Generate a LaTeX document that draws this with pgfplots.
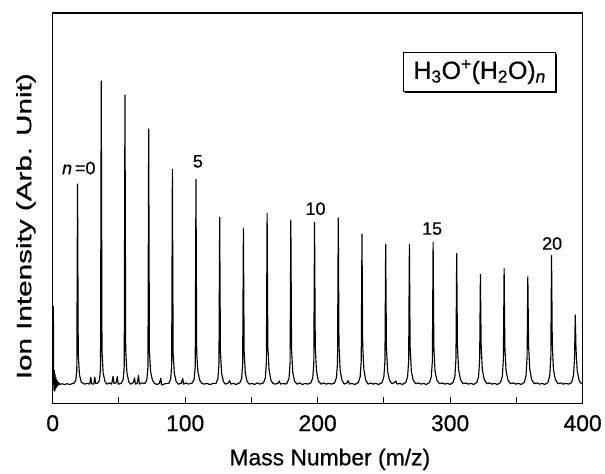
\documentclass[border=0pt]{standalone}
\usepackage{fontspec}
\setmainfont{Liberation Sans}[UprightFeatures={FakeBold=0.6}, ItalicFeatures={FakeBold=0.6}]
\usepackage{graphicx}
\usepackage{pgfplots}
\pgfplotsset{compat=1.18}
\usetikzlibrary{shadows}

\begin{document}
\begin{tikzpicture}
\begin{axis}[
  scale only axis,
  width=533pt, height=393pt,
  xmin=0, xmax=400, ymin=0, ymax=100,
  axis line style={line width=1.2pt},
  xtick={0,100,...,400},
  minor xtick={50,150,250,350},
  ytick=\empty,
  xtick pos=bottom,
  tick align=inside,
  major tick length=7pt, minor tick length=7pt,
  every tick/.style={black, line width=1pt},
  /pgf/number format/assume math mode=true,
  xticklabel style={font=\fontsize{23}{26}\selectfont, yshift=-8pt},
  xlabel={Mass Number (m/z)},
  xlabel style={font=\fontsize{23}{26}\selectfont, at={(axis description cs:0.523,0)}, anchor=base, yshift=-62pt},
  ylabel={\scalebox{1.42}[1]{Ion Intensity (Arb. Unit)}},
  ylabel style={font=\fontsize{21}{24}\selectfont, at={(axis description cs:-0.0507,0.454)}, anchor=center},
  clip=true,
]
% Mass spectrum trace of the protonated water clusters
\addplot[black, line width=1.15pt, line join=round] coordinates {
 (0.5,25) (0.7,9) (0.9,3.5) (1.2,8.5) (1.5,3.2) (1.8,7.5) (2.1,3.8) (2.5,6.6) (2.9,4.2) (3.4,5.9) (3.9,4.6) (4.6,5.4) (5.5,4.9) (7,5.1) (9,4.9) (11,5.1) (13,4.9) (14.5,5.1)
 (16.0,5.2) (17.4,6.0) (18.2,8.5) (18.75,56.2) (19.3,12.5) (20.2,7.4) (21.6,5.5)
 (24,5.0) (26,5.2) (28,5.0) (28.8,6.7) (29.4,5.1) (31,5.0) (31.8,6.8) (32.4,5.2)
 (33.9,5.2) (35.3,6.0) (36.1,9.0) (36.65,82.6) (37.2,13.5) (38.1,7.8) (39.5,5.6)
 (41,5.0) (43,5.3) (44.5,5.0) (45.6,7.0) (46.2,5.2) (47.8,5.3) (48.8,6.9) (49.4,5.0)
 (51.8,5.2) (53.2,6.2) (54.0,9.5) (54.55,79.0) (55.1,14) (56.0,8) (57.4,5.6)
 (59,5.0) (60.8,5.4) (61.8,6.6) (62.4,5.0) (63.8,5.2) (64.8,7.2) (65.4,5.0) (67,5.3)
 (69.7,5.2) (71.1,6.2) (71.9,9.5) (72.45,70.3) (73.0,13.5) (73.9,8.2) (75.3,6.0) (76.8,5.2)
 (78.8,4.9) (80.6,5.2) (81.6,6.5) (82.2,4.8) (84,5.0) (86,5.2)
 (87.6,5.2) (89.0,6.2) (89.8,9.5) (90.35,60.0) (90.9,13) (91.8,7.8) (93.2,5.6)
 (95,5.0) (97,5.2) (98.2,6.4) (98.8,5.0) (100.5,5.3) (102.5,5.0) (104,5.2)
 (105.4,5.3) (106.8,6.3) (107.6,9.5) (108.15,57.4) (108.7,13) (109.6,8.2) (111.0,6.0) (112.5,5.2)
 (114.5,5.0) (116.5,5.2) (118.5,4.9) (120.5,5.1) (122,5.2)
 (123.3,5.2) (124.7,6.4) (125.5,10) (126.05,47.7) (126.6,13.5) (127.5,7.8) (128.9,5.6)
 (130.5,5.0) (132.5,5.3) (133.5,5.9) (134.5,5.0) (136.5,5.2) (138.5,4.9) (140,5.2)
 (141.2,5.3) (142.6,6.4) (143.4,10) (143.95,44.9) (144.5,13.5) (145.4,7.8) (146.8,5.6)
 (148.5,5.0) (150.5,5.2) (152.5,4.9) (154.5,5.3) (156.5,5.0) (158,5.2)
 (159.1,5.3) (160.5,6.6) (161.3,10.5) (161.85,48.7) (162.4,14.5) (163.3,8.8) (164.7,6.0) (166.2,5.2)
 (168,5.0) (170,5.2) (171,5.8) (172,5.0) (174,5.2) (175.8,5.0)
 (177.0,5.3) (178.4,6.5) (179.2,10.5) (179.75,47.0) (180.3,14) (181.2,8.0) (182.6,5.7)
 (184.5,5.0) (186.5,5.3) (188.5,4.9) (190.5,5.2) (192.5,5.0) (193.8,5.2)
 (194.9,5.3) (196.3,6.6) (197.1,10.5) (197.65,46.4) (198.2,14.5) (199.1,8.4) (200.5,5.8)
 (202.5,5.0) (204.5,5.3) (206.5,5.0) (208.5,5.2) (210.5,5.0) (211.7,5.2)
 (212.8,5.3) (214.2,6.7) (215.0,10.5) (215.55,47.5) (216.1,15) (217.0,8.5) (218.4,6.0)
 (220,5.0) (222,5.3) (223,5.9) (224,5.0) (226,5.2) (228,4.9) (229.6,5.2)
 (230.7,5.4) (232.1,6.9) (232.9,11) (233.45,43.4) (234.0,15) (234.9,8.7) (236.3,6.0)
 (238,5.0) (240,5.3) (242,5.0) (244,5.2) (246,4.9) (247.5,5.2)
 (248.6,5.4) (250.0,6.9) (250.8,11) (251.35,40.8) (251.9,14.5) (252.8,8.3) (254.2,6.0)
 (256,5.1) (258,5.4) (259,5.8) (260,5.0) (262,5.2) (264,4.9) (265.4,5.2)
 (266.5,5.4) (267.9,6.9) (268.7,11) (269.25,40.8) (269.8,14.5) (270.7,8.3) (272.1,6.0)
 (274,5.1) (276,5.3) (278,5.0) (280,5.2) (282,4.9) (283.3,5.2)
 (284.4,5.4) (285.8,6.9) (286.6,11) (287.15,41.3) (287.7,14.5) (288.6,8.3) (290.0,6.0)
 (292,5.1) (294,5.3) (296,5.0) (298,5.2) (300,4.9) (301.1,5.2)
 (302.2,5.4) (303.6,7.0) (304.4,11.5) (304.95,38.4) (305.5,15) (306.4,8.7) (307.8,6.2)
 (309.8,5.1) (311.8,5.3) (313.8,5.0) (315.8,5.2) (317.8,4.9) (319,5.2)
 (320.1,5.4) (321.5,7.0) (322.3,11.5) (322.85,33.1) (323.4,15) (324.3,8.7) (325.7,6.2)
 (327.7,5.1) (329.7,5.3) (331.7,5.0) (333.7,5.2) (335.7,4.9) (336.9,5.2)
 (338.0,5.4) (339.4,7.0) (340.2,11.5) (340.75,34.6) (341.3,14.5) (342.2,8.5) (343.6,6.1)
 (345.6,5.1) (347.6,5.3) (349.6,5.0) (351.6,5.2) (353.6,4.9) (354.8,5.2)
 (355.9,5.4) (357.3,7.2) (358.1,12) (358.65,32.5) (359.2,15) (360.1,8.8) (361.5,6.2)
 (363.5,5.1) (365.5,5.3) (367.5,5.0) (369.5,5.2) (371.5,4.9) (372.7,5.2)
 (373.8,5.4) (375.2,7.2) (376.0,12) (376.55,37.9) (377.1,15) (378.0,8.7) (379.4,6.2)
 (381.4,5.1) (383.4,5.3) (385.4,5.0) (387.4,5.2) (389.4,5.0) (390.6,5.2)
 (391.7,5.4) (393.1,7.2) (393.9,11.5) (394.45,22.7) (395.0,14) (395.9,8.5) (397.3,6.0)
 (398.5,5.3) (399.5,5.2) (400,5.2)
};

% cluster size labels
\node[font=\fontsize{18}{21}\selectfont] at (axis cs:19.7,60.3) {\textit{n}\,=0};
\node[font=\fontsize{18}{21}\selectfont] at (axis cs:109.6,62.0) {5};
\node[font=\fontsize{18}{21}\selectfont] at (axis cs:198.4,49.9) {10};
\node[font=\fontsize{18}{21}\selectfont] at (axis cs:286.4,44.8) {15};
\node[font=\fontsize{18}{21}\selectfont] at (axis cs:377,41.0) {20};

% species legend box
\node[draw, fill=white, line width=1.2pt, minimum width=153pt, minimum height=39pt,
      inner sep=2pt, font=\fontsize{25}{28}\selectfont,
      drop shadow={opacity=1, fill=black, shadow xshift=1.6pt, shadow yshift=-1.6pt}]
  at (axis cs:322.3,84.9) {H\textsubscript{3}O\textsuperscript{+}(H\textsubscript{2}O)\textsubscript{\textit{n}}};
\end{axis}
\path ([shift={(-53pt,-68pt)}]current axis.south west) rectangle ([shift={(19pt,13pt)}]current axis.north east);
\end{tikzpicture}
\end{document}
